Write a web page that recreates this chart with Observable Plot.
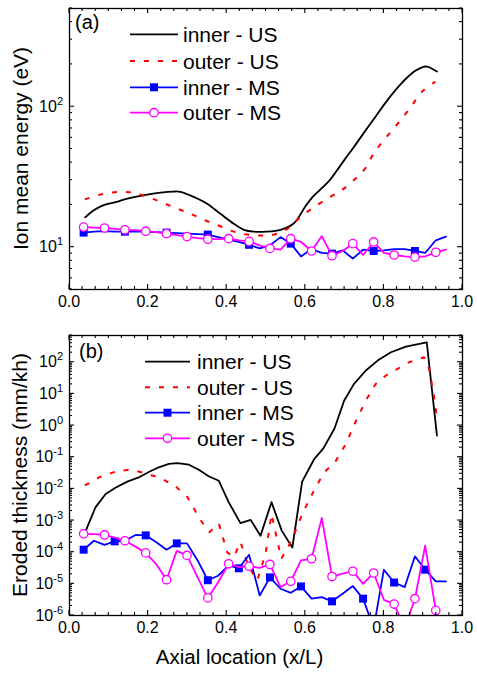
<!DOCTYPE html>
<html><head><meta charset="utf-8">
<script src="https://cdn.jsdelivr.net/npm/d3@7"></script>
<script src="https://cdn.jsdelivr.net/npm/@observablehq/plot@0.6"></script>
<style>
body{margin:0;background:#fff;font-family:"Liberation Sans",Arial,Helvetica,sans-serif;}
#chart{width:477px;height:675px;overflow:hidden;}
#chart svg{display:block;}
</style></head><body><div id="chart"></div>
<script>
// ---------- data ----------
const xGrid = [0.036,0.062,0.089,0.115,0.141,0.168,0.194,0.220,0.247,0.273,0.299,0.326,0.352,0.378,0.405,0.431,0.457,0.484,0.510,0.537,0.563,0.589,0.616,0.642,0.668,0.695,0.721,0.747,0.774,0.800,0.826,0.853,0.879,0.905,0.932,0.958];

// panel (a): ion mean energy (eV)
const energyInnerUSx = [0.040,0.062,0.087,0.120,0.147,0.198,0.232,0.265,0.282,0.316,0.350,0.384,0.418,0.444,0.469,0.500,0.537,0.571,0.600,0.620,0.640,0.660,0.680,0.700,0.720,0.740,0.760,0.780,0.800,0.820,0.840,0.860,0.880,0.900,0.910,0.920,0.935];
const energyInnerUS = [16.3,18.3,19.9,21.0,22.2,23.7,24.5,24.9,24.8,22.8,20.4,17.3,14.7,13.3,12.9,12.9,13.3,14.8,19.5,23,26,29.5,35,42,50,60,72,86,103,122,142,162,180,192,193,188,178];
const energyOuterUSx = [0.039,0.079,0.121,0.160,0.198,0.232,0.270,0.308,0.346,0.384,0.418,0.452,0.486,0.520,0.554,0.588,0.622,0.664,0.698,0.732,0.753,0.774,0.796,0.821,0.847,0.872,0.897,0.931];
const energyOuterUS = [21.9,23.7,24.7,24.5,22.8,21.0,19.0,17.3,15.5,14.1,12.9,12.3,12.1,12.3,13.5,16.4,19.3,22.8,26.1,31.6,36.5,46.5,56,68,83,103,128,151];
const energyInnerMS = [12.7,12.9,13.0,12.9,12.9,12.9,12.9,12.8,12.7,12.6,12.5,12.4,12.3,11.8,11.3,10.9,10.4,9.8,10.3,11.8,10.6,8.6,9.7,9.1,9.0,9.5,8.3,9.6,9.4,9.5,9.7,9.7,9.4,9.1,11.2,11.9];
const energyOuterMS = [13.9,13.8,13.7,13.5,13.3,13.2,13.0,12.8,12.5,12.2,11.9,11.6,11.4,11.4,11.5,11.2,11.0,10.3,9.8,9.6,11.5,10.9,9.4,12.0,8.7,9.4,10.6,8.8,10.9,9.1,8.8,8.6,8.5,8.6,9.2,9.6];

// panel (b): eroded thickness (mm/kh)
const erosionInnerUSx = [0.040,0.066,0.092,0.117,0.147,0.176,0.202,0.227,0.253,0.274,0.304,0.329,0.354,0.380,0.405,0.435,0.461,0.486,0.514,0.540,0.567,0.592,0.622,0.646,0.674,0.699,0.724,0.754,0.784,0.818,0.856,0.909,0.935];
const erosionInnerUS = [4.3e-4,2.6e-3,6.9e-3,1.08e-2,1.7e-2,2.3e-2,3.4e-2,4.8e-2,6.2e-2,6.5e-2,5.8e-2,4.0e-2,2.5e-2,1.8e-2,3.8e-3,8.3e-4,1.05e-3,3.3e-4,3.8e-3,4.8e-4,1.4e-4,1.7e-2,8.5e-2,0.19,0.79,6.2,20.7,55,113,207,313,428,0.48];
const erosionOuterUSx = [0.039,0.075,0.117,0.155,0.193,0.232,0.270,0.300,0.333,0.356,0.380,0.390,0.401,0.418,0.435,0.456,0.478,0.499,0.514,0.539,0.565,0.594,0.618,0.647,0.677,0.703,0.729,0.754,0.779,0.805,0.835,0.864,0.902,0.915,0.928,0.935];
const erosionOuterUS = [1.28e-2,2.3e-2,3.5e-2,4.1e-2,3.1e-2,2.2e-2,1.2e-2,5.5e-3,1.05e-3,4.3e-4,8e-4,3e-4,1e-4,7e-5,2.1e-4,3.4e-5,1.3e-5,9e-5,1.6e-3,6.2e-5,2.3e-4,1.8e-3,7e-3,3.2e-2,7.5e-2,0.26,1.4,6.2,20.7,38,62,100,144,62,7.9,1.8];
const erosionInnerMS = [1.2e-4,2.3e-4,1.7e-4,2.2e-4,2.3e-4,3.5e-4,3.4e-4,2.1e-4,1.2e-4,1.9e-4,1.9e-4,5.5e-5,1.3e-5,1.8e-5,3.8e-5,3.1e-5,8.3e-5,4.3e-6,1.6e-5,7e-6,5.2e-6,8.3e-6,3.4e-6,3.8e-6,2.8e-6,4.9e-6,8.5e-6,3.4e-6,4e-7,2.8e-5,1.1e-5,7.9e-6,7.4e-5,2.8e-5,1.2e-5,1.2e-5];
const erosionOuterMS = [3.8e-4,3.7e-4,3.5e-4,2.9e-4,2.3e-4,1.5e-4,9.5e-5,4.3e-5,1.35e-5,1.1e-4,7.9e-5,1.6e-5,3.6e-6,1.1e-5,4.3e-5,3.4e-5,3.6e-5,3.2e-5,4.1e-5,7.9e-6,1.2e-5,5.5e-5,6.2e-5,1.2e-3,1.7e-5,2.1e-5,2.5e-5,1e-5,2.2e-5,3.1e-6,2.3e-6,4e-7,3.4e-6,1.6e-4,1.45e-6,4e-7];

const legendLabels = ["inner - US","outer - US","inner - MS","outer - MS"];
const xTickLabels = ["0.0","0.2","0.4","0.6","0.8","1.0"];
const xTicks = [0,0.2,0.4,0.6,0.8,1.0];
const energyTickExps = [1,2];
const erosionTickExps = [-6,-5,-4,-3,-2,-1,0,1,2];
const energyTitle = "Ion mean energy (eV)";
const erosionTitle = "Eroded thickness (mm/kh)";
const xTitle = "Axial location (x/L)";

// ---------- style ----------
const W = 477, ML = 69, MR = 15;
const FONT = '"Liberation Sans", Arial, Helvetica, sans-serif';
const C = {iUS:"#000000", oUS:"#ff0000", iMS:"#0000ff", oMS:"#ff00ff"};
const DASH = "5,9";
const SQ_R = 4.5, CI_R = 4.2;

const zip = (xs, ys) => xs.map((x, i) => ({x, y: ys[i]}));

function seriesMarks(iUSx, iUS, oUSx, oUS, iMS, oMS, squareEvery, curve) {
  const dIMS = zip(xGrid, iMS), dOMS = zip(xGrid, oMS);
  return [
    Plot.line(zip(iUSx, iUS), {x:"x", y:"y", stroke:C.iUS, strokeWidth:1.8, curve, clip:true}),
    Plot.line(zip(oUSx, oUS), {x:"x", y:"y", stroke:C.oUS, strokeWidth:2, strokeDasharray:DASH, strokeLinecap:"butt", curve, clip:true}),
    Plot.line(dIMS, {x:"x", y:"y", stroke:C.iMS, strokeWidth:1.8, clip:true}),
    Plot.dot(dIMS, {x:"x", y:"y", filter:(d, i) => i % squareEvery === 0, symbol:"square", r:SQ_R, fill:C.iMS, stroke:"none", clip:true}),
    Plot.line(dOMS, {x:"x", y:"y", stroke:C.oMS, strokeWidth:1.8, clip:true}),
    Plot.dot(dOMS, {x:"x", y:"y", filter:(d, i) => i % 2 === 0, r:CI_R, fill:"white", stroke:C.oMS, strokeWidth:1.3, clip:true})
  ];
}

function panel(cfg) {
  const plot = Plot.plot({
    width: W, height: cfg.height,
    marginLeft: ML, marginRight: MR, marginTop: cfg.mt, marginBottom: cfg.mb,
    x: {type:"linear", domain:[0,1], axis:null},
    y: {type:"log", domain:cfg.yDomain, axis:null},
    style: {fontFamily: FONT, background:"white", color:"black"},
    marks: [...cfg.marks, Plot.frame({stroke:"black", strokeWidth:1.3})]
  });
  const x = plot.scale("x"), y = plot.scale("y");
  const svg = d3.select(plot);
  const xl = ML, xr = W - MR, yb = cfg.height - cfg.mb, yt = cfg.mt;
  const g = svg.append("g").attr("stroke","black").attr("stroke-width",1.1);
  // x ticks (inward, bottom and top)
  const xMinor = d3.range(0, 31).map(k => k / 30);
  for (const v of xMinor) {
    const px = x.apply(v);
    const major = Math.abs(v * 5 - Math.round(v * 5)) < 1e-6;
    const len = major ? 5 : 3;
    g.append("line").attr("x1",px).attr("x2",px).attr("y1",yb).attr("y2",yb-len);
    g.append("line").attr("x1",px).attr("x2",px).attr("y1",yt).attr("y2",yt+len);
  }
  // y ticks (inward, left and right)
  const [d0, d1] = cfg.yDomain;
  const e0 = Math.floor(Math.log10(d0)), e1 = Math.ceil(Math.log10(d1));
  for (let e = e0; e <= e1; e++) {
    for (let m = 1; m <= 9; m++) {
      const v = m * Math.pow(10, e);
      if (v < d0 * 0.999 || v > d1 * 1.001) continue;
      const py = y.apply(v);
      const len = m === 1 ? 5 : 3;
      g.append("line").attr("x1",xl).attr("x2",xl+len).attr("y1",py).attr("y2",py);
      g.append("line").attr("x1",xr).attr("x2",xr-len).attr("y1",py).attr("y2",py);
    }
  }
  // x tick labels
  xTicks.forEach((v, i) => {
    svg.append("text").attr("x", x.apply(v)).attr("y", yb + 18).attr("text-anchor","middle")
      .attr("font-size",16).attr("fill","black").text(xTickLabels[i]);
  });
  // y tick labels 10^n
  cfg.exps.forEach(e => {
    const py = y.apply(Math.pow(10, e));
    const t = svg.append("text").attr("x", xl - 6).attr("y", py + 5.5).attr("text-anchor","end")
      .attr("font-size",16).attr("fill","black");
    t.append("tspan").text("10");
    t.append("tspan").attr("dy",-7).attr("font-size",11).text(String(e));
  });
  // y title
  svg.append("text").attr("transform", `translate(${cfg.titleX},${(yt + yb) / 2}) rotate(-90)`)
    .attr("text-anchor","middle").attr("font-size",21).attr("fill","black").text(cfg.yTitle);
  // panel tag
  svg.append("text").attr("x", cfg.tagX).attr("y", cfg.tagY).attr("text-anchor","start")
    .attr("font-size",20).attr("fill","black").text(cfg.tag);
  // legend
  const styles = [
    {c:C.iUS, w:1.8}, {c:C.oUS, w:2, dash:DASH}, {c:C.iMS, w:1.8, m:"square"}, {c:C.oMS, w:1.8, m:"circle"}
  ];
  styles.forEach((s, i) => {
    const cy = cfg.legY[i];
    const lg = svg.append("g");
    lg.append("line").attr("x1",cfg.legX0).attr("x2",cfg.legX1).attr("y1",cy).attr("y2",cy)
      .attr("stroke",s.c).attr("stroke-width",s.w).attr("stroke-dasharray",s.dash || null);
    const mx = (cfg.legX0 + cfg.legX1) / 2;
    if (s.m === "square") {
      const side = SQ_R * Math.sqrt(Math.PI);
      lg.append("rect").attr("x",mx - side/2).attr("y",cy - side/2).attr("width",side).attr("height",side).attr("fill",s.c);
    } else if (s.m === "circle") {
      lg.append("circle").attr("cx",mx).attr("cy",cy).attr("r",CI_R).attr("fill","white").attr("stroke",s.c).attr("stroke-width",1.3);
    }
    lg.append("text").attr("x",cfg.legTx).attr("y",cy + 7.5).attr("text-anchor","start")
      .attr("font-size",21).attr("fill","black").text(legendLabels[i]);
  });
  if (cfg.xTitle) {
    svg.append("text").attr("x",239.5).attr("y",yb + 48.5).attr("text-anchor","middle")
      .attr("font-size",20.5).attr("fill","black").text(cfg.xTitle);
  }
  return plot;
}

const root = document.getElementById("chart");
root.appendChild(panel({
  height:320, mt:8, mb:31, yDomain:[5,500], exps:energyTickExps,
  marks: seriesMarks(energyInnerUSx, energyInnerUS, energyOuterUSx, energyOuterUS, energyInnerMS, energyOuterMS, 4, "catmull-rom"),
  yTitle: energyTitle, titleX: 28, tag:"(a)", tagX:75, tagY:29,
  legY:[34.3, 61, 87.3, 112.7], legX0:130, legX1:178, legTx:183
}));
root.appendChild(panel({
  height:355, mt:15, mb:60, yDomain:[1e-6,700], exps:erosionTickExps,
  marks: seriesMarks(erosionInnerUSx, erosionInnerUS, erosionOuterUSx, erosionOuterUS, erosionInnerMS, erosionOuterMS, 3, "linear"),
  yTitle: erosionTitle, titleX: 27, tag:"(b)", tagX:79, tagY:37.5,
  legY:[41.7, 67.2, 92.7, 118.3], legX0:145, legX1:190, legTx:197,
  xTitle: xTitle
}));
</script></body></html>
